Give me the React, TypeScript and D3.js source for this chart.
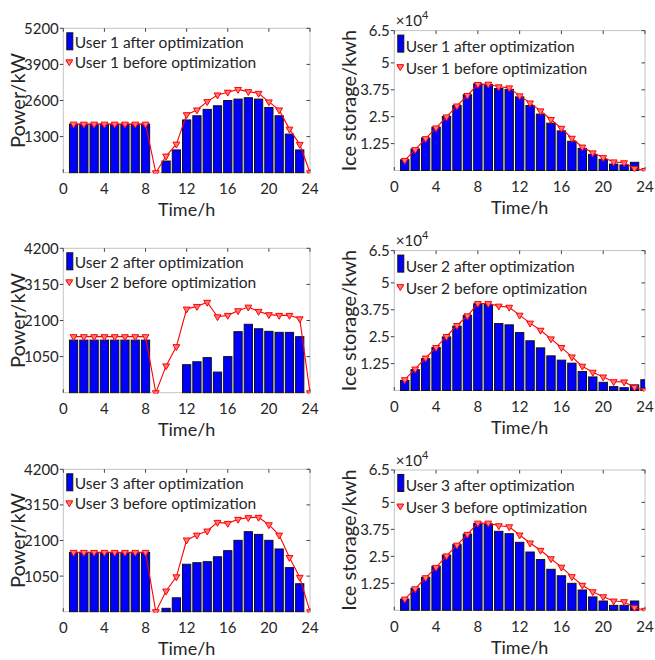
import React from "react";
import * as d3 from "d3";

// hours 1..24
const hours = [1, 2, 3, 4, 5, 6, 7, 8, 9, 10, 11, 12, 13, 14, 15, 16, 17, 18, 19, 20, 21, 22, 23, 24];
const xTicks = [0, 4, 8, 12, 16, 20, 24];

// power (kW)
const user1PowerAfter = [1750, 1750, 1750, 1750, 1750, 1750, 1750, 1750, 0, 420, 820, 1900, 2050, 2280, 2410, 2600, 2650, 2700, 2650, 2350, 2050, 1390, 820, 0];
const user1PowerBefore = [1750, 1750, 1750, 1750, 1750, 1750, 1750, 1750, 0, 600, 1030, 2090, 2260, 2560, 2800, 2900, 3000, 2920, 2860, 2550, 2260, 1570, 1020, 0];
const user2PowerAfter = [1530, 1530, 1530, 1530, 1530, 1530, 1530, 1530, 0, 0, 0, 815, 900, 1020, 600, 1050, 1775, 1990, 1860, 1785, 1755, 1755, 1630, 0];
const user2PowerBefore = [1630, 1630, 1630, 1630, 1630, 1630, 1630, 1630, 0, 780, 1340, 2435, 2510, 2630, 2210, 2250, 2385, 2490, 2365, 2270, 2250, 2250, 2150, 0];
const user3PowerAfter = [1750, 1750, 1750, 1750, 1750, 1750, 1750, 1750, 0, 100, 410, 1400, 1445, 1475, 1620, 1800, 2105, 2360, 2280, 2105, 1850, 1300, 825, 0];
const user3PowerBefore = [1750, 1750, 1750, 1750, 1750, 1750, 1750, 1750, 0, 610, 1030, 2115, 2260, 2380, 2635, 2605, 2725, 2775, 2785, 2565, 2260, 1600, 1015, 0];

// ice storage (x10^4 kWh)
const user1IceAfter = [0.5, 1.0, 1.51, 2.01, 2.51, 3.02, 3.52, 4.03, 4.0, 3.81, 3.77, 3.42, 3.02, 2.62, 2.2, 1.84, 1.36, 1.03, 0.75, 0.52, 0.3, 0.26, 0.38, 0];
const user1IceBefore = [0.47, 0.97, 1.48, 1.98, 2.49, 3.0, 3.49, 4.0, 4.01, 3.89, 3.84, 3.47, 3.14, 2.77, 2.37, 1.96, 1.5, 1.09, 0.82, 0.6, 0.4, 0.36, 0.09, 0];
const user2IceAfter = [0.47, 0.97, 1.48, 2.0, 2.49, 2.99, 3.49, 4.03, 4.0, 3.11, 3.05, 2.69, 2.31, 1.98, 1.61, 1.41, 1.27, 0.88, 0.63, 0.38, 0.18, 0.13, 0.26, 0.5];
const user2IceBefore = [0.5, 1.0, 1.51, 2.0, 2.51, 3.02, 3.47, 4.04, 4.04, 3.92, 3.87, 3.5, 3.13, 2.8, 2.4, 2.0, 1.56, 1.13, 0.85, 0.63, 0.41, 0.4, 0.15, 0];
const user3IceAfter = [0.52, 1.02, 1.53, 2.04, 2.56, 3.04, 3.53, 4.03, 4.0, 3.66, 3.55, 3.15, 2.7, 2.35, 1.9, 1.6, 1.25, 0.94, 0.62, 0.43, 0.23, 0.23, 0.43, 0];
const user3IceBefore = [0.52, 1.0, 1.51, 1.99, 2.52, 3.02, 3.52, 4.04, 4.04, 3.92, 3.87, 3.49, 3.12, 2.78, 2.39, 2.0, 1.56, 1.16, 0.86, 0.63, 0.43, 0.4, 0.12, 0];

const powerTicks1 = [1300, 2600, 3900, 5200];
const powerTicks23 = [1050, 2100, 3150, 4200];
const iceTicks = [1.25, 2.5, 3.75, 5, 6.5];
const iceTickLabels = ["1.25", "2.5", "3.75", "5", "6.5"];

const FONT = "Lato, 'Open Sans', sans-serif";
const TXT = "#262626";

type PanelProps = {
  id: string;
  x0: number; x1: number; y0: number; y1: number;
  yMax: number; yTicks: number[]; yTickLabels?: string[];
  yLabel: string; user: number;
  after: number[]; before: number[];
  exp?: boolean; legendRows: [number, number, number];
};

function Panel(p: PanelProps) {
  const x = d3.scaleLinear().domain([0, 24]).range([p.x0, p.x1]);
  const y = d3.scaleLinear().domain([0, p.yMax]).range([p.y1, p.y0]);
  const bw = (x(1) - x(0)) * 0.8;
  const line = d3.line<number>().x((_, i) => x(hours[i])).y((d) => y(d));
  const tri = d3.symbol(d3.symbolTriangle, 20)()!;
  const tk = 3.5;
  const midY = (p.y0 + p.y1) / 2;
  const [r1, r2, mk] = p.legendRows;
  return (
    <g>
      <defs>
        <clipPath id={p.id}>
          <rect x={p.x0} y={p.y0} width={p.x1 - p.x0} height={p.y1 - p.y0 + 1} />
        </clipPath>
      </defs>
      {/* box */}
      <rect x={p.x0} y={p.y0} width={p.x1 - p.x0} height={p.y1 - p.y0} fill="white" stroke="#c4c4c4" strokeWidth={1} />
      {xTicks.map((t) => (
        <g key={"xt" + t}>
          <line x1={x(t)} x2={x(t)} y1={p.y0} y2={p.y0 + tk} stroke="#444" />
          <line x1={x(t)} x2={x(t)} y1={p.y1} y2={p.y1 - tk} stroke="#444" />
          <text x={x(t)} y={p.y1 + 21.5} textAnchor="middle" fontSize={15} fill={TXT}>{t}</text>
        </g>
      ))}
      {p.yTicks.map((t, i) => (
        <g key={"yt" + t}>
          <line x1={p.x0 - tk} x2={p.x0} y1={y(t)} y2={y(t)} stroke="#444" />
          <line x1={p.x1} x2={p.x1 - tk} y1={y(t)} y2={y(t)} stroke="#444" />
          <text x={p.x0 - 4.5} y={y(t)} dy="0.36em" textAnchor="end" fontSize={15} fill={TXT}>
            {p.yTickLabels ? p.yTickLabels[i] : t}
          </text>
        </g>
      ))}
      {/* bars */}
      <g clipPath={`url(#${p.id})`}>
        {p.after.map((v, i) => (
          <rect key={"b" + i} x={x(hours[i]) - bw / 2} y={y(v)} width={bw} height={y(0) - y(v)}
            fill="#0000ff" stroke="#111" strokeWidth={1} />
        ))}
        <path d={line(p.before)!} fill="none" stroke="#ff0000" strokeWidth={1.1} />
        {p.before.map((v, i) => (
          <path key={"m" + i} d={tri} transform={`translate(${x(hours[i])},${y(v)}) rotate(180)`}
            fill="#ff7a7a" stroke="#ff0000" strokeWidth={1} />
        ))}
      </g>
      {/* legend */}
      <rect x={p.x0 + 3.5} y={p.y0 + 4.5} width={6} height={17} fill="#0000ff" stroke="#111" strokeWidth={1} />
      <text x={p.x0 + 11.5} y={p.y0 + r1} fontSize={15.5} fill={TXT}>{`User ${p.user} after optimization`}</text>
      <line x1={p.x0 + 3} x2={p.x0 + 9} y1={p.y0 + mk} y2={p.y0 + mk} stroke="#ff0000" />
      <path d={tri} transform={`translate(${p.x0 + 6},${p.y0 + mk}) rotate(180)`} fill="#ff7a7a" stroke="#ff0000" />
      <text x={p.x0 + 11.5} y={p.y0 + r2} fontSize={15.5} fill={TXT}>{`User ${p.user} before optimization`}</text>
      {/* axis labels */}
      <text x={(p.x0 + p.x1) / 2} y={p.y1 + 43.5} textAnchor="middle" fontSize={18} fill={TXT}>Time/h</text>
      <text transform={`translate(${p.x0 - 38},${midY}) rotate(-90)`} textAnchor="middle" fontSize={20} fill={TXT}>{p.yLabel}</text>
      {p.exp && (
        <text x={p.x0 + 1.5} y={p.y0 - 4.5} fontSize={15} fill={TXT}>
          ×10<tspan fontSize={11} dy={-7}>4</tspan>
        </text>
      )}
    </g>
  );
}

export default function App() {
  const L = { x0: 63.3, x1: 310 };
  const R = { x0: 394.3, x1: 645 };
  return (
    <svg width={655} height={660} style={{ position: "absolute", left: 0, top: 0, background: "white" }} fontFamily={FONT}>
      <rect width={655} height={660} fill="white" />
      <Panel id="c1" {...L} y0={28.3} y1={172.7} yMax={5200} yTicks={powerTicks1} yLabel="Power/kW" user={1}
        after={user1PowerAfter} before={user1PowerBefore} legendRows={[20, 40, 33.5]} />
      <Panel id="c2" {...R} y0={30.6} y1={170.5} yMax={6.5} yTicks={iceTicks} yTickLabels={iceTickLabels} yLabel="Ice storage/kwh" user={1}
        after={user1IceAfter} before={user1IceBefore} exp legendRows={[21, 43, 36]} />
      <Panel id="c3" {...L} y0={248.3} y1={392.7} yMax={4200} yTicks={powerTicks23} yLabel="Power/kW" user={2}
        after={user2PowerAfter} before={user2PowerBefore} legendRows={[20, 40, 33.5]} />
      <Panel id="c4" {...R} y0={250.6} y1={390.5} yMax={6.5} yTicks={iceTicks} yTickLabels={iceTickLabels} yLabel="Ice storage/kwh" user={2}
        after={user2IceAfter} before={user2IceBefore} exp legendRows={[21, 43, 36]} />
      <Panel id="c5" {...L} y0={469.3} y1={611.7} yMax={4200} yTicks={powerTicks23} yLabel="Power/kW" user={3}
        after={user3PowerAfter} before={user3PowerBefore} legendRows={[20, 40, 33.5]} />
      <Panel id="c6" {...R} y0={470} y1={610.3} yMax={6.5} yTicks={iceTicks} yTickLabels={iceTickLabels} yLabel="Ice storage/kwh" user={3}
        after={user3IceAfter} before={user3IceBefore} exp legendRows={[21, 43, 36]} />
    </svg>
  );
}
